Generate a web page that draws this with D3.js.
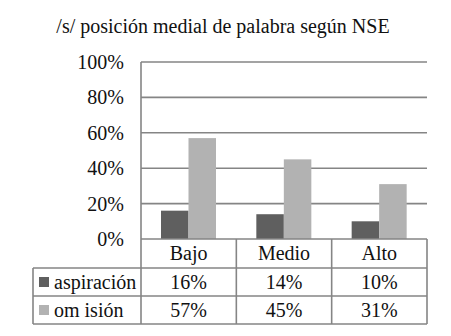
<!DOCTYPE html>
<html><head><meta charset="utf-8">
<script src="https://cdn.jsdelivr.net/npm/d3@7"></script>
</head><body style="margin:0">
<script>
const title = "/s/ posición medial de palabra según NSE";
const categories = ["Bajo", "Medio", "Alto"];
const seriesNames = ["aspiración", "omisión"];
const displayNames = ["aspiración", "om isión"];
const aspiracion = [16, 14, 10];
const omision = [57, 45, 31];
const yTicks = [0, 20, 40, 60, 80, 100];
const colors = ["#5f5f5f", "#b2b2b2"];

const values = [aspiracion, omision];
const W = 451, H = 336;
const svg = d3.select("body").append("svg").attr("width", W).attr("height", H).style("display", "block");

const x = d3.scaleBand().domain(categories).range([141, 427]);
const x1 = d3.scaleBand().domain(seriesNames).range([20, 75]);
const y = d3.scaleLinear().domain([0, 100]).range([239, 62]);
const gridColor = "#858585";

function txt(sel) {
  return sel.style("font-family", d => `"Liberation Serif"`).style("font-size", "20px").attr("fill", "#111");
}

txt(svg.append("text").attr("x", 223).attr("y", 33).attr("text-anchor", "middle")).text(title);

svg.append("g").selectAll("line").data(yTicks.filter(t => t > 0)).join("line")
  .attr("x1", 141).attr("x2", 427).attr("y1", d => y(d)).attr("y2", d => y(d))
  .attr("stroke", gridColor).attr("stroke-width", 1.6);

txt(svg.append("g").selectAll("text").data(yTicks).join("text")
  .attr("x", 124).attr("y", d => y(d)).attr("dy", "0.35em").attr("text-anchor", "end"))
  .text(d => d + "%");

categories.forEach((c, i) => {
  svg.append("g").selectAll("rect").data(seriesNames).join("rect")
    .attr("x", s => x(c) + x1(s)).attr("width", x1.bandwidth())
    .attr("y", (s, k) => y(values[k][i]))
    .attr("height", (s, k) => y(0) - y(values[k][i]))
    .attr("fill", (s, k) => colors[k]);
});

const rowY = [239, 268, 296, 324];
const tableLeft = 33;
const g = svg.append("g").attr("stroke", gridColor).attr("stroke-width", 1.6).attr("fill", "none");
g.append("line").attr("x1", 141).attr("x2", 427).attr("y1", rowY[0]).attr("y2", rowY[0]);
[1, 2, 3].forEach(r => g.append("line").attr("x1", tableLeft).attr("x2", 427).attr("y1", rowY[r]).attr("y2", rowY[r]));
g.append("line").attr("x1", tableLeft).attr("x2", tableLeft).attr("y1", rowY[1]).attr("y2", rowY[3]);
g.append("line").attr("x1", 141).attr("x2", 141).attr("y1", y(100)).attr("y2", rowY[3]);
categories.forEach(c => {
  g.append("line").attr("x1", x(c) + x.bandwidth()).attr("x2", x(c) + x.bandwidth())
    .attr("y1", rowY[0]).attr("y2", rowY[3]);
});

txt(svg.append("g").selectAll("text").data(categories).join("text")
  .attr("x", d => x(d) + x.bandwidth() / 2).attr("y", 260).attr("text-anchor", "middle"))
  .text(d => d);

seriesNames.forEach((s, k) => {
  const top = rowY[k + 1];
  const base = top + 21;
  svg.append("rect").attr("x", 39).attr("y", top + 9).attr("width", 10).attr("height", 10)
    .attr("fill", colors[k]);
  txt(svg.append("text").attr("x", 54).attr("y", base)).text(displayNames[k]);
  txt(svg.append("g").selectAll("text").data(categories).join("text")
    .attr("x", d => x(d) + x.bandwidth() / 2).attr("y", base).attr("text-anchor", "middle"))
    .text((d, i) => values[k][i] + "%");
});
</script>
</body></html>
